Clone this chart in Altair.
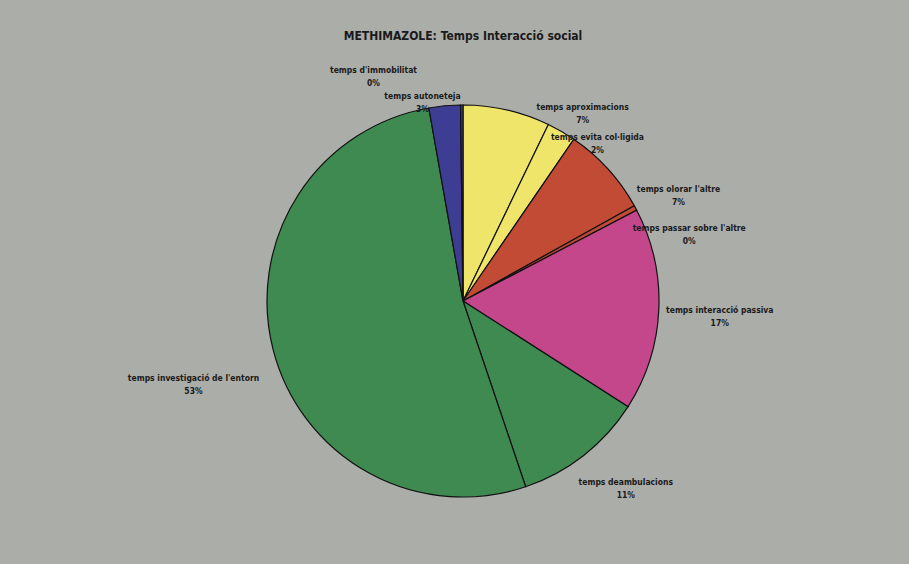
import altair as alt
import pandas as pd

categories = [
    "temps aproximacions",
    "temps evita col·ligida",
    "temps olorar l'altre",
    "temps passar sobre l'altre",
    "temps interacció passiva",
    "temps deambulacions",
    "temps investigació de l'entorn",
    "temps autoneteja",
    "temps d'immobilitat",
]
values = [7.2, 2.4, 7.4, 0.4, 16.8, 10.8, 52.6, 2.6, 0.2]
colors = ["#EFE56A", "#EFE56A", "#C24B36", "#C24B36", "#C4478C",
          "#3F8A50", "#3F8A50", "#3C3D93", "#3C3D93"]

# label nudges (dx, dy) in pixels, as Excel moved the labels apart
nudges = [(66, 40), (14, 44), (38, 50), (15, 41), (17, -2),
          (15, -8), (-37, 18), (-18, 34), (-88, 9)]

df = pd.DataFrame({
    "cat": categories,
    "value": values,
    "order": list(range(len(categories))),
})
df["label"] = [f"{c}\n{round(v)}%" for c, v in zip(categories, values)]
total = float(sum(values))

font = "DejaVu Sans Condensed, Liberation Sans, Arial, sans-serif"
tscale = alt.Scale(domain=[0, total])

pie = alt.Chart(df).mark_arc(stroke="#111111", strokeWidth=1.2, outerRadius=196).encode(
    theta=alt.Theta("value:Q", stack=True, scale=tscale),
    order=alt.Order("order:Q"),
    color=alt.Color("cat:N", scale=alt.Scale(domain=categories, range=colors), legend=None),
)

label_base = alt.Chart(df).transform_window(
    cum="sum(value)", sort=[alt.SortField("order")], frame=[None, 0]
).transform_calculate(mid="datum.cum - datum.value / 2")

layers = [pie]
for i, (dx, dy) in enumerate(nudges):
    layers.append(
        label_base.transform_filter(alt.datum.order == i).mark_text(
            radius=240, lineBreak="\n", font=font, fontSize=8.5, fontWeight="bold",
            color="#1a1a1a", dx=dx, dy=dy, lineHeight=13,
        ).encode(
            theta=alt.Theta("mid:Q", stack=None, scale=tscale),
            text="label:N",
        )
    )

chart = alt.layer(*layers).properties(
    width=892,
    height=526,
    padding={"left": 17, "top": 38, "right": 0, "bottom": 0},
    autosize=alt.AutoSizeParams(type="none"),
    background="#ABADA9",
    title=alt.TitleParams(
        "METHIMAZOLE: Temps Interacció social",
        font=font, fontSize=12, fontWeight="bold", color="#1a1a1a",
        anchor="middle", offset=-5,
    ),
).configure_view(stroke=None)

chart.save("out.html", embed_options={"renderer": "svg", "actions": False})
